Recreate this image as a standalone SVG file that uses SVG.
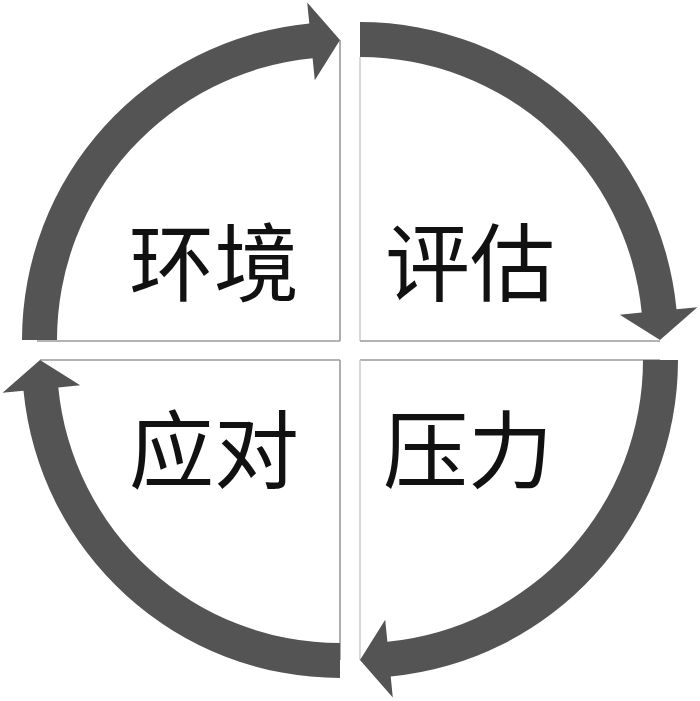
<svg xmlns="http://www.w3.org/2000/svg" width="700" height="701" viewBox="0 0 700 701">
<style>
.band{fill:#545454;}
.edge{fill:none;stroke:#9a9a9a;stroke-width:1.6;}
.edge2{fill:none;stroke:#c8c8c8;stroke-width:1.4;}
.lbl{font-family:"Noto Sans CJK SC","Noto Sans CJK TC",sans-serif;font-size:85px;fill:#111;text-anchor:middle;}
</style>
<rect width="700" height="701" fill="#ffffff"/>
<g id="connectors">
<line class="edge" x1="340" y1="40" x2="340" y2="341"/>
<line class="edge" x1="37" y1="341" x2="340" y2="341"/>
<line class="edge2" x1="360" y1="57" x2="360" y2="341"/>
<line class="edge" x1="360" y1="341" x2="660" y2="341"/>
<line class="edge" x1="360" y1="360" x2="660" y2="360"/>
<line class="edge2" x1="360" y1="360" x2="360" y2="660"/>
<line class="edge" x1="40" y1="360" x2="340" y2="360"/>
<line class="edge" x1="340" y1="360" x2="340" y2="660"/>
<path id="arrow-tl" class="band" d="M22 340 A318 318 0 0 1 309.3 23.5 L307.2 2.6 L340 40 L314.8 80.2 L312.6 58.3 A283 283 0 0 0 57 340 Z"/>
<path id="arrow-tr" class="band" d="M360 22 A318 318 0 0 1 676.5 309.3 L697.4 307.2 L660 340 L619.8 314.8 L641.7 312.6 A283 283 0 0 0 360 57 Z"/>
<path id="arrow-br" class="band" d="M678 360 A318 318 0 0 1 390.7 676.5 L392.8 697.4 L360 660 L385.2 619.8 L387.4 641.7 A283 283 0 0 0 643 360 Z"/>
<path id="arrow-bl" class="band" d="M340 678 A318 318 0 0 1 23.5 390.7 L2.6 392.8 L40 360 L80.2 385.2 L58.3 387.4 A283 283 0 0 0 340 643 Z"/>
</g>
<g id="node-huanjing"><text class="lbl" x="214" y="295">环境</text></g>
<g id="node-pinggu"><text class="lbl" x="470" y="295">评估</text></g>
<g id="node-yali"><text class="lbl" x="468" y="482">压力</text></g>
<g id="node-yingdui"><text class="lbl" x="214" y="482">应对</text></g>
</svg>
